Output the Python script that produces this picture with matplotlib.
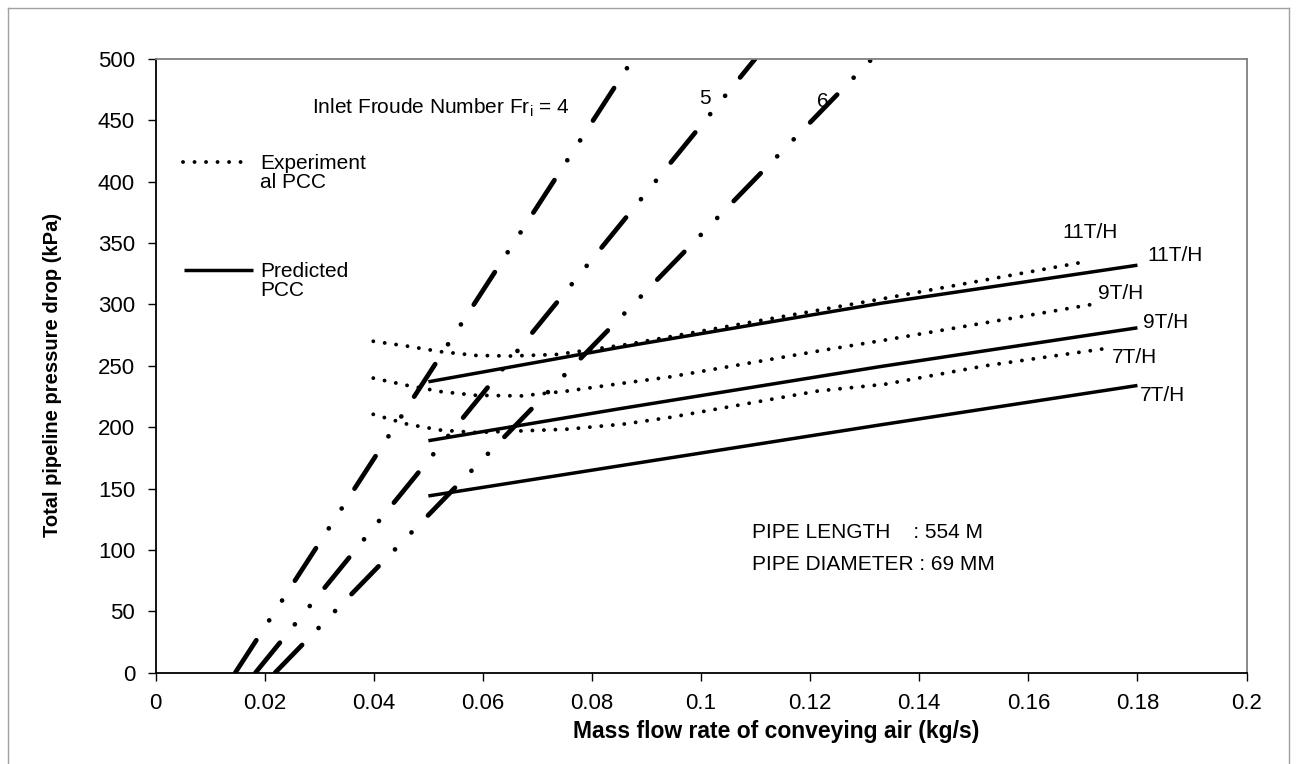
import matplotlib
matplotlib.use("Agg")
import matplotlib.pyplot as plt
from matplotlib.lines import Line2D

plt.rcParams['font.family'] = ['Liberation Sans', 'DejaVu Sans']
plt.rcParams['mathtext.default'] = 'regular'

# ---- data ----
x_ticks = [0, 0.02, 0.04, 0.06, 0.08, 0.1, 0.12, 0.14, 0.16, 0.18, 0.2]
x_tick_labels = ["0", "0.02", "0.04", "0.06", "0.08", "0.1", "0.12", "0.14", "0.16", "0.18", "0.2"]
y_ticks = [0, 50, 100, 150, 200, 250, 300, 350, 400, 450, 500]

# Froude number lines (start at 0 kPa, reach 500 kPa)
froude_numbers = ["4", "5", "6"]
froude_x_at_0 = [0.0146, 0.0183, 0.0219]
froude_x_at_500 = [0.0875, 0.1099, 0.1313]
froude_y = [0, 500]

# Experimental PCC curves
exp11_x = [0.0399, 0.0462, 0.0523, 0.0587, 0.0651, 0.0737, 0.0865, 0.1092, 0.1337, 0.1420, 0.1694]
exp11_y = [270, 266, 261.5, 258.5, 258, 259.3, 267.5, 285.6, 305, 311.8, 334]
exp9_x = [0.0399, 0.0462, 0.0523, 0.0587, 0.0670, 0.0755, 0.0859, 0.0943, 0.1214, 0.1337, 0.1520, 0.1716]
exp9_y = [240, 234, 229, 226, 225.5, 229.5, 236, 241, 262, 271, 285, 300]
exp7_x = [0.0399, 0.0462, 0.0523, 0.0587, 0.0670, 0.0755, 0.0859, 0.0943, 0.1214, 0.1337, 0.1520, 0.1740]
exp7_y = [210.5, 202.4, 197.6, 195.7, 197, 198.4, 202.6, 208, 229.5, 235, 250, 264]

# Predicted PCC curves
pred_x = [0.05, 0.085, 0.133, 0.18]
pred11_y = [237, 265, 301, 332]
pred9_y = [189, 215, 249.5, 281]
pred7_y = [144, 168.5, 202, 234]

# ---- figure ----
fig = plt.figure(figsize=(12.97, 7.64), dpi=100)
ax = fig.add_axes([0.12, 0.1195, 0.8411, 0.8033])

dot_style = dict(color='black', linewidth=2.8, linestyle=(0, (0.01, 2.95)),
                 dash_capstyle='round', solid_capstyle='round')
solid_style = dict(color='black', linewidth=2.5, linestyle='-', solid_capstyle='butt')
froude_style = dict(color='black', linewidth=3.4,
                    linestyle=(0, (8.2, 5.0, 0.01, 5.0, 0.01, 5.0)),
                    dash_capstyle='round')

for x0, x1 in zip(froude_x_at_0, froude_x_at_500):
    ax.plot([x0, x1], froude_y, **froude_style)

ax.plot(exp11_x, exp11_y, **dot_style)
ax.plot(exp9_x, exp9_y, **dot_style)
ax.plot(exp7_x, exp7_y, **dot_style)
ax.plot(pred_x, pred11_y, **solid_style)
ax.plot(pred_x, pred9_y, **solid_style)
ax.plot(pred_x, pred7_y, **solid_style)

ax.set_xlim(0, 0.2)
ax.set_ylim(0, 500)
ax.set_xticks(x_ticks)
ax.set_xticklabels(x_tick_labels)
ax.set_yticks(y_ticks)
ax.tick_params(axis='both', direction='out', length=5.8, width=1.0, labelsize=16, colors='black')
ax.tick_params(axis='x', pad=9)
ax.tick_params(axis='y', pad=9)

for s in ['left', 'bottom']:
    ax.spines[s].set_color('black')
    ax.spines[s].set_linewidth(1.3)
for s in ['top', 'right']:
    ax.spines[s].set_color('#808080')
    ax.spines[s].set_linewidth(1.3)

ax.set_xlabel("Mass flow rate of conveying air (kg/s)", fontsize=16.5, fontweight='bold')
ax.set_ylabel("Total pipeline pressure drop (kPa)", fontsize=14.5, fontweight='bold')
ax.xaxis.label.set_va('center')
ax.yaxis.label.set_va('center')
ax.xaxis.set_label_coords(0.569, -0.096)
ax.yaxis.set_label_coords(-0.0945, 0.485)

fs = 15
ax.text(0.0287, 460, r"Inlet Froude Number Fr$_{i}$ = 4", fontsize=fs, va='center', ha='left')
ax.text(0.1007, 468, froude_numbers[1], fontsize=fs, va='center', ha='center')
ax.text(0.1223, 465, froude_numbers[2], fontsize=fs, va='center', ha='center')

# legend-like annotations
ax.plot([0.0050, 0.0164], [416, 416], **dot_style)
ax.text(0.0191, 407.5, "Experiment\nal PCC", fontsize=fs, va='center', ha='left', linespacing=1.0)
ax.plot([0.0052, 0.0179], [328, 328], **solid_style)
ax.text(0.0191, 319, "Predicted\nPCC", fontsize=fs, va='center', ha='left', linespacing=1.0)

# curve labels
ax.text(0.1663, 359, "11T/H", fontsize=fs, va='center', ha='left')
ax.text(0.1819, 340, "11T/H", fontsize=fs, va='center', ha='left', clip_on=False)
ax.text(0.1728, 309, "9T/H", fontsize=fs, va='center', ha='left')
ax.text(0.1810, 285, "9T/H", fontsize=fs, va='center', ha='left')
ax.text(0.1753, 257, "7T/H", fontsize=fs, va='center', ha='left')
ax.text(0.1805, 226, "7T/H", fontsize=fs, va='center', ha='left')

ax.text(0.1093, 114.6, "PIPE LENGTH    : 554 M", fontsize=fs, va='center', ha='left')
ax.text(0.1093, 88.5, "PIPE DIAMETER : 69 MM", fontsize=fs, va='center', ha='left')

# outer frame of the figure
W, H = 1297, 764
fcol = '#a0a0a0'
fig.add_artist(Line2D([8 / W, 8 / W], [0, 1 - 8 / H], color=fcol, lw=1.0))
fig.add_artist(Line2D([8 / W, 1289 / W], [1 - 8 / H, 1 - 8 / H], color=fcol, lw=1.0))
fig.add_artist(Line2D([1289 / W, 1289 / W], [0, 1 - 8 / H], color=fcol, lw=1.0))

fig.savefig("out.png", dpi=100)
